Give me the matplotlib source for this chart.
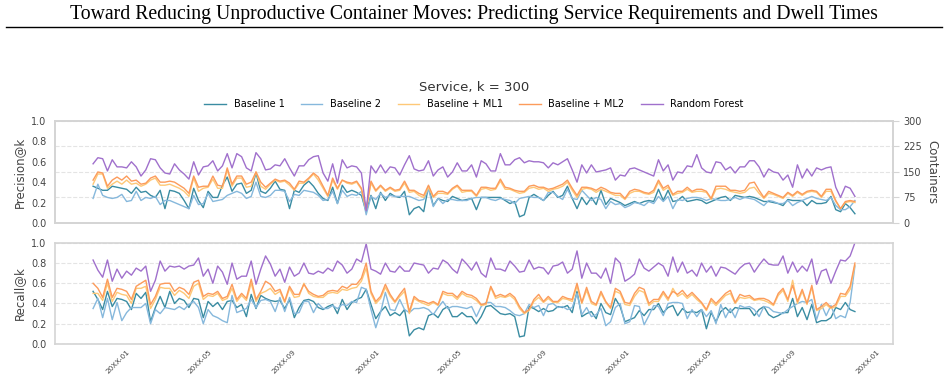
import numpy as np
import pandas as pd
import matplotlib
matplotlib.use('Agg')
import matplotlib.pyplot as plt
import matplotlib.dates as mdates
from matplotlib.lines import Line2D

# Weekly evaluation dates (years anonymised in the tick labels)
weeks = pd.date_range('2018-11-26', periods=160, freq='7D')

labels = ['Baseline 1', 'Baseline 2', 'Baseline + ML1', 'Baseline + ML2', 'Random Forest']
colors = ['#3a8ca2', '#86b8dc', '#fec877', '#fc9b5b', '#a070cc']

# Precision@k, in percent
prec_b1 = [36, 34, 32, 32, 36, 35, 34, 33, 29, 35,
           30, 31, 27, 25, 32, 14, 32, 31, 29, 22,
           14, 34, 22, 15, 31, 25, 25, 37, 45, 31,
           38, 39, 29, 32, 49, 31, 29, 34, 41, 33,
           32, 14, 32, 30, 37, 41, 36, 29, 24, 22,
           35, 19, 37, 30, 32, 30, 27, 11, 27, 14,
           30, 22, 29, 26, 25, 31, 8, 14, 16, 11,
           36, 17, 24, 22, 21, 26, 24, 22, 23, 24,
           13, 25, 25, 25, 25, 25, 22, 19, 21, 6,
           8, 25, 28, 25, 22, 27, 31, 25, 27, 36,
           24, 14, 25, 18, 25, 18, 32, 18, 24, 22,
           20, 17, 19, 21, 19, 21, 22, 21, 33, 22,
           32, 21, 22, 26, 21, 22, 23, 22, 19, 21,
           23, 25, 26, 22, 27, 26, 25, 26, 25, 23,
           21, 21, 20, 19, 17, 23, 22, 22, 22, 17,
           22, 19, 19, 20, 26, 13, 11, 19, 15, 9]
prec_b2 = [24, 38, 27, 25, 24, 25, 28, 21, 22, 31,
           22, 25, 24, 26, 18, 22, 22, 20, 18, 16,
           14, 27, 18, 19, 29, 21, 22, 23, 27, 29,
           31, 29, 24, 26, 40, 26, 25, 27, 32, 32,
           31, 21, 28, 27, 32, 31, 30, 27, 22, 23,
           31, 19, 32, 26, 28, 27, 31, 8, 26, 23,
           29, 25, 27, 26, 26, 26, 26, 24, 22, 23,
           33, 16, 24, 19, 23, 23, 22, 22, 22, 24,
           25, 25, 25, 23, 22, 24, 23, 22, 19, 24,
           25, 26, 25, 25, 22, 30, 30, 26, 23, 33,
           24, 23, 32, 27, 22, 25, 23, 14, 21, 18,
           19, 15, 17, 20, 19, 17, 21, 19, 26, 21,
           26, 14, 23, 22, 24, 25, 25, 24, 22, 24,
           23, 22, 22, 23, 25, 23, 25, 24, 23, 20,
           17, 22, 21, 19, 19, 22, 17, 20, 22, 24,
           26, 24, 23, 22, 25, 17, 13, 13, 16, 22]
prec_ml1 = [38, 48, 48, 34, 38, 41, 38, 42, 38, 39,
            36, 38, 42, 44, 37, 37, 38, 36, 34, 31,
            26, 44, 31, 34, 35, 43, 34, 34, 52, 36,
            44, 44, 35, 36, 50, 36, 33, 38, 42, 40,
            41, 37, 32, 39, 39, 43, 48, 42, 34, 26,
            42, 33, 42, 39, 38, 40, 33, 13, 39, 31,
            36, 31, 34, 31, 32, 39, 30, 31, 27, 25,
            35, 25, 29, 29, 28, 33, 36, 30, 31, 31,
            26, 33, 34, 32, 33, 41, 33, 33, 31, 29,
            30, 34, 35, 33, 34, 31, 33, 34, 36, 40,
            32, 25, 33, 34, 33, 30, 33, 31, 29, 27,
            27, 23, 29, 31, 31, 29, 28, 30, 40, 32,
            35, 27, 29, 30, 33, 30, 31, 31, 30, 23,
            33, 34, 33, 31, 30, 29, 30, 34, 35, 29,
            24, 29, 28, 26, 24, 29, 26, 30, 27, 30,
            31, 30, 25, 31, 31, 21, 14, 20, 21, 20]
prec_ml2 = [42, 50, 49, 36, 42, 45, 42, 46, 41, 42,
            38, 39, 44, 46, 40, 40, 41, 40, 37, 34,
            29, 46, 35, 36, 36, 46, 37, 36, 54, 38,
            46, 46, 38, 40, 50, 40, 35, 39, 43, 41,
            42, 39, 33, 41, 40, 44, 49, 45, 36, 27,
            44, 34, 42, 40, 39, 41, 34, 13, 41, 32,
            37, 32, 35, 32, 33, 41, 32, 32, 29, 27,
            37, 26, 31, 31, 29, 34, 37, 32, 32, 32,
            27, 35, 35, 34, 34, 43, 35, 34, 32, 31,
            31, 36, 37, 35, 35, 33, 34, 36, 38, 42,
            34, 27, 35, 35, 34, 32, 35, 33, 30, 29,
            29, 24, 31, 33, 32, 30, 29, 32, 42, 34,
            37, 28, 31, 31, 35, 31, 33, 33, 31, 24,
            36, 36, 36, 32, 32, 31, 32, 39, 40, 32,
            25, 31, 29, 27, 25, 30, 27, 31, 28, 31,
            32, 31, 26, 33, 33, 22, 14, 21, 22, 21]
prec_rf = [58, 64, 63, 51, 62, 55, 55, 54, 60, 55,
           46, 52, 63, 62, 54, 49, 48, 58, 52, 48,
           43, 60, 47, 55, 56, 61, 51, 56, 68, 54,
           68, 65, 54, 51, 69, 63, 52, 53, 57, 56,
           63, 54, 46, 56, 56, 62, 65, 66, 49, 41,
           58, 39, 62, 54, 56, 55, 49, 12, 56, 49,
           57, 49, 55, 54, 47, 57, 66, 53, 51, 52,
           61, 46, 52, 55, 45, 50, 59, 51, 51, 57,
           45, 61, 58, 51, 51, 68, 57, 57, 62, 64,
           59, 61, 60, 60, 59, 54, 59, 57, 60, 63,
           52, 40, 57, 49, 57, 50, 51, 52, 54, 42,
           47, 46, 53, 54, 52, 50, 48, 46, 62, 51,
           57, 42, 50, 49, 56, 55, 67, 54, 50, 49,
           60, 59, 52, 55, 49, 55, 55, 61, 61, 55,
           45, 53, 50, 49, 42, 47, 35, 57, 44, 53,
           46, 54, 52, 54, 55, 35, 25, 36, 34, 26]

# Recall@k, in percent
rec_b1 = [52, 44, 34, 52, 37, 45, 44, 42, 34, 50,
          45, 51, 22, 36, 47, 36, 52, 40, 45, 43,
          36, 45, 44, 26, 42, 37, 41, 34, 42, 43,
          36, 39, 27, 49, 35, 48, 45, 43, 42, 43,
          35, 44, 26, 36, 43, 44, 42, 36, 34, 37,
          39, 30, 44, 34, 41, 44, 46, 54, 39, 25,
          32, 37, 28, 31, 28, 34, 8, 14, 16, 14,
          28, 30, 26, 34, 37, 27, 27, 31, 27, 27,
          20, 27, 37, 38, 34, 30, 29, 30, 27, 7,
          8, 37, 35, 32, 35, 32, 33, 37, 36, 38,
          31, 52, 27, 30, 32, 25, 40, 31, 29, 45,
          37, 22, 24, 26, 33, 28, 34, 34, 40, 31,
          36, 38, 28, 35, 31, 32, 31, 34, 15, 31,
          22, 32, 36, 31, 36, 35, 35, 35, 28, 34,
          37, 29, 26, 28, 31, 31, 45, 27, 36, 24,
          39, 21, 23, 23, 26, 36, 34, 41, 34, 32]
rec_b2 = [35, 45, 26, 45, 24, 41, 23, 31, 36, 36,
          36, 40, 20, 34, 30, 36, 35, 34, 37, 34,
          39, 42, 36, 20, 34, 28, 26, 23, 21, 48,
          31, 33, 35, 44, 36, 43, 44, 42, 32, 46,
          32, 46, 30, 31, 42, 42, 31, 40, 35, 35,
          38, 35, 39, 38, 42, 41, 56, 54, 34, 16,
          31, 51, 34, 33, 44, 34, 31, 35, 35, 36,
          34, 29, 36, 42, 35, 37, 37, 36, 35, 37,
          27, 37, 41, 41, 37, 37, 36, 33, 29, 28,
          30, 39, 36, 38, 28, 39, 40, 36, 37, 34,
          36, 50, 29, 36, 27, 29, 35, 18, 22, 36,
          40, 20, 22, 38, 37, 19, 28, 38, 37, 28,
          40, 41, 41, 40, 25, 34, 27, 34, 27, 33,
          20, 39, 26, 35, 26, 38, 36, 37, 34, 27,
          37, 36, 32, 31, 30, 34, 37, 40, 42, 41,
          44, 24, 39, 28, 38, 25, 28, 26, 41, 77]
rec_ml1 = [50, 50, 43, 60, 42, 51, 49, 48, 40, 55,
           55, 57, 35, 44, 56, 55, 55, 48, 53, 50,
           45, 57, 60, 44, 48, 47, 50, 43, 45, 55,
           42, 48, 43, 60, 42, 50, 52, 55, 49, 52,
           41, 55, 46, 47, 60, 50, 47, 46, 46, 50,
           51, 50, 54, 53, 55, 56, 62, 75, 50, 40,
           45, 56, 47, 41, 47, 52, 30, 45, 42, 40,
           38, 41, 38, 50, 48, 48, 44, 50, 47, 46,
           43, 38, 39, 56, 45, 47, 46, 48, 44, 35,
           30, 33, 42, 46, 41, 45, 41, 41, 45, 44,
           42, 57, 40, 53, 40, 38, 50, 41, 35, 52,
           50, 39, 38, 47, 53, 51, 38, 42, 42, 50,
           43, 55, 47, 50, 45, 49, 44, 40, 33, 43,
           38, 43, 48, 50, 40, 46, 45, 46, 43, 44,
           43, 41, 38, 48, 53, 42, 63, 40, 52, 39,
           56, 33, 35, 39, 35, 37, 47, 47, 54, 78]
rec_ml2 = [60, 55, 46, 64, 46, 55, 54, 52, 44, 57,
           60, 63, 39, 47, 59, 60, 60, 52, 56, 54,
           49, 61, 63, 47, 50, 49, 52, 45, 47, 59,
           44, 50, 45, 64, 44, 52, 62, 59, 52, 54,
           42, 57, 49, 49, 59, 52, 49, 47, 48, 52,
           53, 52, 57, 55, 59, 59, 65, 80, 52, 42,
           47, 59, 49, 42, 49, 55, 32, 47, 43, 42,
           40, 42, 39, 52, 50, 50, 46, 52, 49, 48,
           45, 39, 40, 57, 47, 49, 47, 50, 46, 37,
           31, 34, 44, 49, 42, 47, 42, 42, 47, 45,
           44, 60, 41, 56, 42, 39, 52, 42, 36, 55,
           52, 41, 40, 50, 56, 54, 40, 44, 44, 52,
           45, 52, 49, 53, 47, 51, 46, 41, 34, 45,
           40, 45, 50, 53, 41, 49, 47, 48, 44, 45,
           45, 43, 39, 50, 55, 44, 58, 42, 54, 40,
           58, 34, 37, 41, 36, 39, 50, 49, 57, 80]
rec_rf = [83, 73, 66, 83, 62, 74, 65, 72, 68, 75,
          72, 77, 52, 63, 82, 72, 77, 76, 77, 74,
          77, 78, 85, 67, 74, 60, 77, 71, 59, 80,
          64, 67, 67, 82, 59, 74, 87, 79, 67, 74,
          61, 76, 67, 70, 80, 70, 69, 72, 70, 75,
          72, 82, 78, 70, 74, 84, 81, 99, 74, 72,
          69, 80, 72, 71, 77, 72, 72, 80, 79, 78,
          70, 75, 74, 83, 80, 74, 70, 84, 79, 73,
          81, 70, 66, 85, 74, 74, 72, 82, 77, 71,
          72, 83, 74, 76, 75, 69, 77, 78, 81, 70,
          74, 92, 65, 80, 70, 70, 65, 75, 60, 85,
          80, 62, 65, 69, 84, 75, 72, 76, 80, 77,
          67, 86, 71, 81, 70, 73, 67, 80, 71, 77,
          67, 76, 75, 72, 69, 75, 79, 80, 71, 78,
          84, 79, 78, 78, 87, 70, 81, 71, 77, 72,
          84, 59, 72, 74, 60, 72, 83, 82, 87, 100]

precision = [prec_b1, prec_b2, prec_ml1, prec_ml2, prec_rf]
recall = [rec_b1, rec_b2, rec_ml1, rec_ml2, rec_rf]

spine_col = '#d4d4d4'
text_col = '#444444'

fig = plt.figure(figsize=(9.48, 3.83), dpi=100)
ax1 = fig.add_axes([0.058, 0.418, 0.884, 0.266])
ax2 = fig.add_axes([0.058, 0.102, 0.884, 0.264], sharex=ax1)

# Paper header
fig.text(0.5, 1 - 15 / 383, 'Toward Reducing Unproductive Container Moves: Predicting Service Requirements and Dwell Times',
         family='Liberation Serif', fontsize=14.2, ha='center', va='center')
fig.add_artist(Line2D([0.006, 0.994], [1 - 27 / 383] * 2, color='black', lw=1))

for vals, lab, col in zip(precision, labels, colors):
    ax1.plot(weeks, np.array(vals) / 100, color=col, lw=1.0, label=lab)
for vals, lab, col in zip(recall, labels, colors):
    ax2.plot(weeks, np.array(vals) / 100, color=col, lw=1.0, label=lab)

ax1.set_ylim(0, 1)
ax2.set_ylim(0, 1)
ax1.set_yticks([0, 0.2, 0.4, 0.6, 0.8, 1.0])
ax2.set_yticks([0, 0.2, 0.4, 0.6, 0.8, 1.0])

# Right-hand container axis on the precision panel
ax1r = ax1.twinx()
ax1r.set_ylim(0, 300)
ax1r.set_yticks([0, 75, 150, 225, 300])
ax1r.set_ylabel('Containers', rotation=270, labelpad=12, fontsize=8.5, color=text_col)
ax1r.grid(axis='y', linestyle='--', color='#e4e4e4', lw=0.8)
ax1r.tick_params(axis='y', labelsize=7, colors=text_col, length=4, color=spine_col)
ax1r.set_zorder(0)
ax1.set_zorder(1)
ax1.patch.set_visible(False)

ax2.grid(axis='y', linestyle='--', color='#e4e4e4', lw=0.8)
ax2.set_axisbelow(True)

for ax in [ax1, ax2, ax1r]:
    for sp in ax.spines.values():
        sp.set_color(spine_col)
        sp.set_linewidth(1.2)

for ax in [ax1, ax2]:
    ax.tick_params(axis='y', labelsize=7, colors=text_col, length=0, pad=6)
    ax.tick_params(axis='x', length=0)

ax1.set_ylabel('Precision@k', fontsize=8.5, color=text_col)
ax2.set_ylabel('Recall@k', fontsize=8.5, color=text_col)
plt.setp(ax1.get_xticklabels(), visible=False)

ax2.xaxis.set_major_locator(mdates.MonthLocator(bymonth=[1, 5, 9]))
ax2.xaxis.set_major_formatter(mdates.DateFormatter('20XX-%m'))
plt.setp(ax2.get_xticklabels(), rotation=45, fontsize=5.2, color=text_col)

fig.text(0.5, 1 - 88 / 383, 'Service, k = 300', ha='center', va='center', fontsize=9.5, color='#333333')
ax1.legend(loc='center', bbox_to_anchor=(0.5, 1 - 104 / 383), bbox_transform=fig.transFigure,
           ncol=5, frameon=False, fontsize=7, columnspacing=1.7, handlelength=2.2)

fig.savefig('out.png', dpi=100)
